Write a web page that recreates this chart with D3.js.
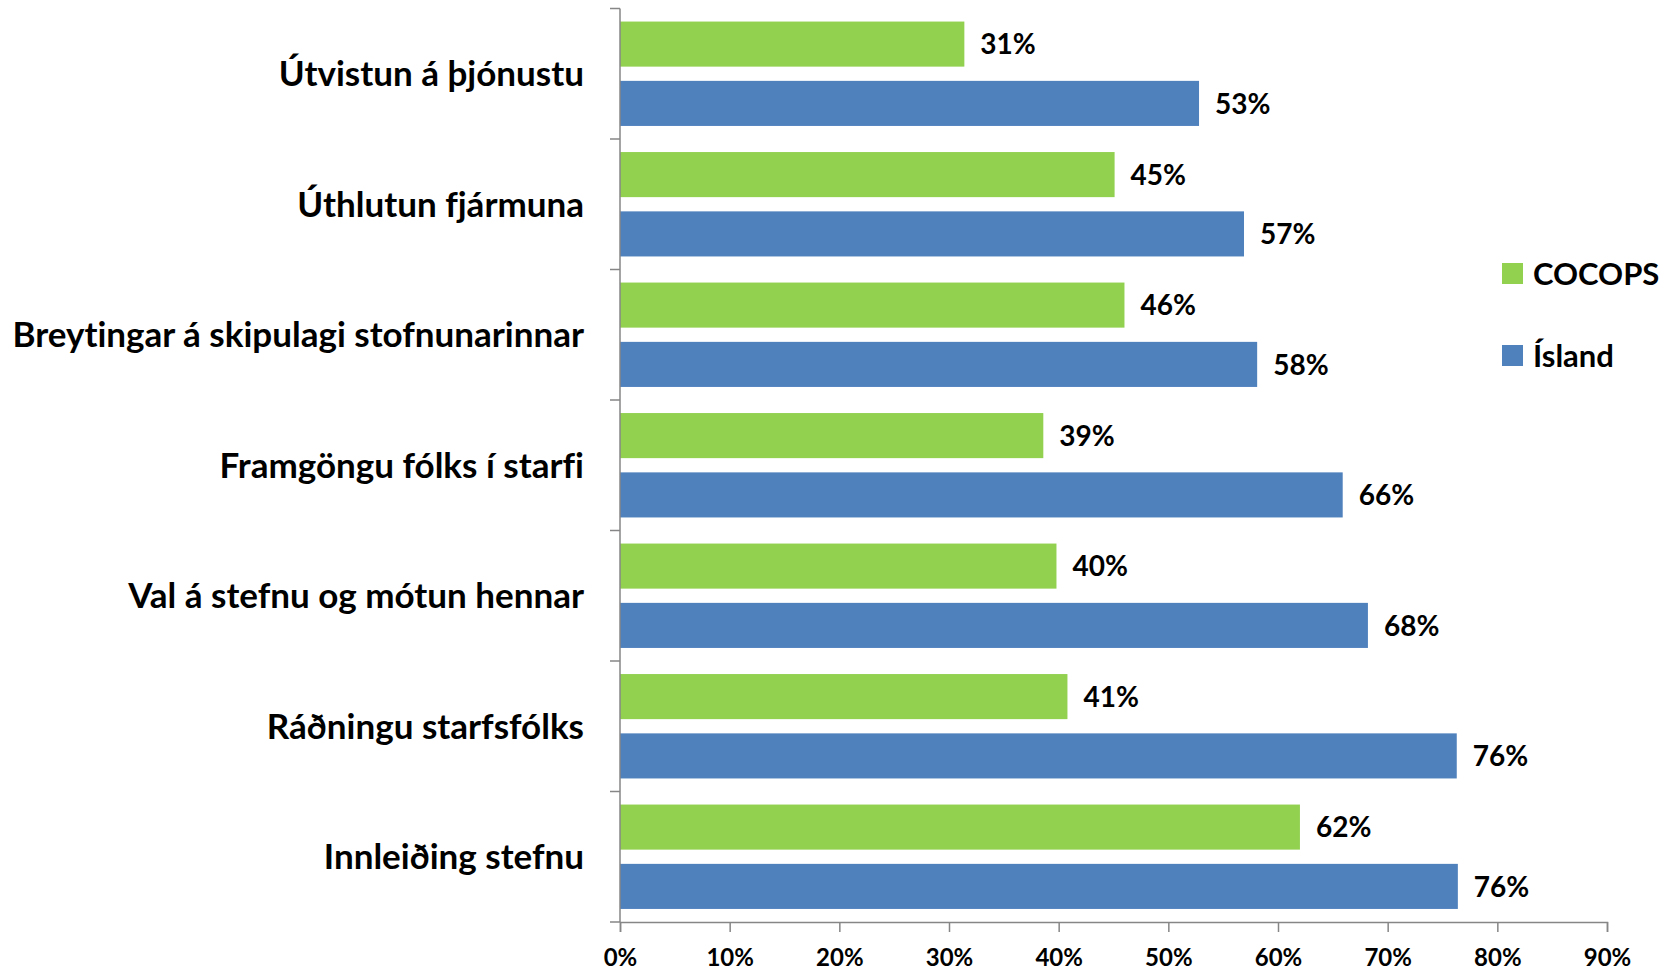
<!DOCTYPE html>
<html>
<head>
<meta charset="utf-8">
<script src="https://cdn.jsdelivr.net/npm/d3@7"></script>
<style>
  html, body { margin: 0; padding: 0; background: #fff; }
  svg { display: block; font-family: Lato, "Open Sans", sans-serif; font-weight: 700; font-variant-ligatures: none; }
</style>
</head>
<body>
<svg id="main_svg" width="1669" height="971"></svg>
<script>
const categories = [
  "Útvistun á þjónustu",
  "Úthlutun fjármuna",
  "Breytingar á skipulagi stofnunarinnar",
  "Framgöngu fólks í starfi",
  "Val á stefnu og mótun hennar",
  "Ráðningu starfsfólks",
  "Innleiðing stefnu"
];
const seriesNames = ["COCOPS", "Ísland"];
const cocopsValues = [31.4, 45.1, 46.0, 38.6, 39.8, 40.8, 62.0];
const islandValues = [52.8, 56.9, 58.1, 65.9, 68.2, 76.3, 76.4];
const xTicks = [0, 10, 20, 30, 40, 50, 60, 70, 80, 90];
const colors = { COCOPS: "#92D050", "Ísland": "#4F81BD" };

const rows = categories.map((c, i) => ({
  name: c,
  values: [
    { key: "COCOPS", value: cocopsValues[i] },
    { key: "Ísland", value: islandValues[i] }
  ]
}));

const svg = d3.select("#main_svg");
const axisColor = "#868686";

const x = d3.scaleLinear().domain([0, 90]).range([620, 1607]);

const y = d3
  .scaleBand()
  .domain(categories)
  .range([8.5, 922])
  .paddingInner(0.2)
  .paddingOuter(0.1);

const ySub = d3
  .scaleBand()
  .domain(seriesNames)
  .range([0, y.bandwidth()])
  .paddingInner(0.24);

// bars
const groups = svg
  .append("g")
  .selectAll("g")
  .data(rows)
  .enter()
  .append("g")
  .attr("transform", d => `translate(0,${y(d.name)})`);

groups
  .selectAll("rect")
  .data(d => d.values)
  .enter()
  .append("rect")
  .attr("x", x(0))
  .attr("y", d => ySub(d.key))
  .attr("width", d => x(d.value) - x(0))
  .attr("height", ySub.bandwidth())
  .attr("fill", d => colors[d.key]);

groups
  .selectAll("text")
  .data(d => d.values)
  .enter()
  .append("text")
  .attr("x", d => x(d.value) + 16)
  .attr("y", d => ySub(d.key) + ySub.bandwidth() / 2)
  .attr("dy", "0.37em")
  .style("font-size", "28px")
  .attr("fill", "#000")
  .text(d => Math.round(d.value) + "%");

// category axis
const yStart = y.range()[0];
const boundaries = d3.range(categories.length + 1).map(i => yStart + i * y.step());

const yAxis = svg.append("g");
yAxis
  .append("line")
  .attr("x1", x(0))
  .attr("x2", x(0))
  .attr("y1", yStart)
  .attr("y2", boundaries[boundaries.length - 1])
  .attr("stroke", axisColor)
  .attr("stroke-width", 1.5);
yAxis
  .selectAll(".tick")
  .data(boundaries)
  .enter()
  .append("line")
  .attr("x1", x(0) - 10)
  .attr("x2", x(0))
  .attr("y1", d => d)
  .attr("y2", d => d)
  .attr("stroke", axisColor)
  .attr("stroke-width", 1.5);
yAxis
  .selectAll("text")
  .data(categories)
  .enter()
  .append("text")
  .attr("x", 584)
  .attr("y", d => y(d) + y.bandwidth() / 2)
  .attr("dy", "0.35em")
  .attr("text-anchor", "end")
  .style("font-size", "35px")
  .attr("fill", "#000")
  .text(d => d);

// value axis
const xAxis = g =>
  g
    .attr("transform", `translate(0,${boundaries[boundaries.length - 1]})`)
    .call(
      d3
        .axisBottom(x)
        .tickValues(xTicks)
        .tickSize(10)
        .tickPadding(17)
        .tickFormat(d => d + "%")
    );

svg
  .append("g")
  .call(xAxis)
  .call(g => g.select(".domain").attr("stroke", axisColor).attr("stroke-width", 1.5))
  .call(g => g.selectAll(".tick line").attr("stroke", axisColor).attr("stroke-width", 1.5))
  .call(g =>
    g
      .selectAll(".tick text")
      .attr("fill", "#000")
      .style("font-size", "24px")
      .style("font-family", "Lato, sans-serif")
      .style("font-weight", 700)
  );

// legend
const legend = svg
  .append("g")
  .selectAll("g")
  .data(seriesNames)
  .enter()
  .append("g")
  .attr("transform", (d, i) => `translate(1502,${263 + i * 82})`);

legend
  .append("rect")
  .attr("width", 21)
  .attr("height", 21)
  .attr("fill", d => colors[d]);

legend
  .append("text")
  .attr("x", 31)
  .attr("y", 10.5)
  .attr("dy", "0.36em")
  .style("font-size", "31px")
  .attr("fill", "#000")
  .text(d => d);
</script>
</body>
</html>
